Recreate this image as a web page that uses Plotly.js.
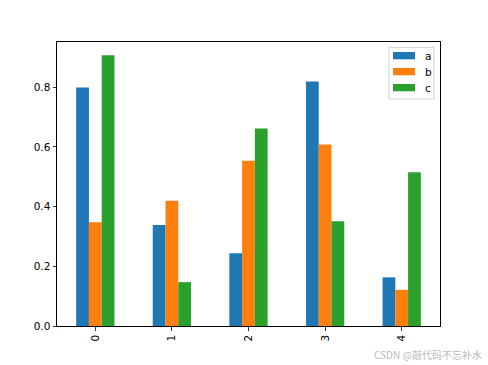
<!DOCTYPE html>
<html>
<head>
<meta charset="utf-8">
<script src="https://cdn.plot.ly/plotly-3.0.1.min.js"></script>
<style>html,body{margin:0;padding:0;background:#fff;}#chart{width:488px;height:365px;}</style>
</head>
<body>
<div id="chart"></div>
<script>
var categories = ['0', '1', '2', '3', '4'];
var seriesNames = ['a', 'b', 'c'];
var valuesA = [0.799, 0.338, 0.244, 0.819, 0.163];
var valuesB = [0.348, 0.420, 0.554, 0.608, 0.121];
var valuesC = [0.907, 0.147, 0.662, 0.351, 0.515];
var colors = ['#1f77b4', '#ff7f0e', '#2ca02c'];
var yTicks = [0, 0.2, 0.4, 0.6, 0.8];
var watermark = 'CSDN @敲代码不忘补水';

var allValues = [valuesA, valuesB, valuesC];
var traces = [];
allValues.forEach(function (vals, i) {
  traces.push({
    type: 'bar', x: categories, y: vals, name: seriesNames[i],
    marker: {color: colors[i], line: {width: 0}},
    showlegend: false, hoverinfo: 'skip'
  });
});

// manual matplotlib-style legend (paper coordinates)
var shapes = [{
  type: 'rect', xref: 'paper', yref: 'paper',
  x0: 0.8668, x1: 0.9843, y0: 0.7993, y1: 0.9813,
  line: {color: '#d0d0d0', width: 1}, fillcolor: 'rgba(255,255,255,0.8)', layer: 'above'
}];
var annotations = [];
var rowTop = 0.9648, rowStep = 0.0563, patchH = 0.0257;
seriesNames.forEach(function (name, i) {
  var yt = rowTop - i * rowStep;
  shapes.push({
    type: 'rect', xref: 'paper', yref: 'paper',
    x0: 0.8773, x1: 0.9347, y0: yt - patchH, y1: yt,
    line: {width: 0}, fillcolor: colors[i], layer: 'above'
  });
  annotations.push({
    text: name, xref: 'paper', yref: 'paper', x: 0.9560, y: yt - patchH / 2,
    xanchor: 'left', yanchor: 'middle', showarrow: false,
    font: {family: 'DejaVu Sans', size: 10.5, color: '#000'}
  });
});
annotations.push({
  text: watermark, xref: 'paper', yref: 'paper', x: 1.116, y: -0.0986,
  xanchor: 'right', yanchor: 'middle', showarrow: false,
  font: {family: 'Noto Sans CJK SC', size: 10, color: '#bbbbbb'}
});

var layout = {
  width: 488, height: 365,
  margin: {l: 57, r: 48, t: 42, b: 39, pad: 0},
  paper_bgcolor: '#fff', plot_bgcolor: '#fff',
  font: {family: 'DejaVu Sans', size: 10.5, color: '#000'},
  barmode: 'group', bargap: 0.5, bargroupgap: 0,
  showlegend: false,
  xaxis: {
    type: 'category', range: [-0.5, 4.5], tickangle: -90,
    showgrid: false, zeroline: false, showline: true, linecolor: '#000', linewidth: 1, mirror: true,
    ticks: 'outside', ticklen: 3.5, tickwidth: 0.8, tickcolor: '#000'
  },
  yaxis: {
    range: [0, 0.9515], tickvals: yTicks, tickformat: '.1f',
    showgrid: false, zeroline: false, showline: true, linecolor: '#000', linewidth: 1, mirror: true,
    ticks: 'outside', ticklen: 3.5, tickwidth: 0.8, tickcolor: '#000'
  },
  shapes: shapes,
  annotations: annotations
};

Plotly.newPlot('chart', traces, layout, {displayModeBar: false, staticPlot: true});
</script>
</body>
</html>
